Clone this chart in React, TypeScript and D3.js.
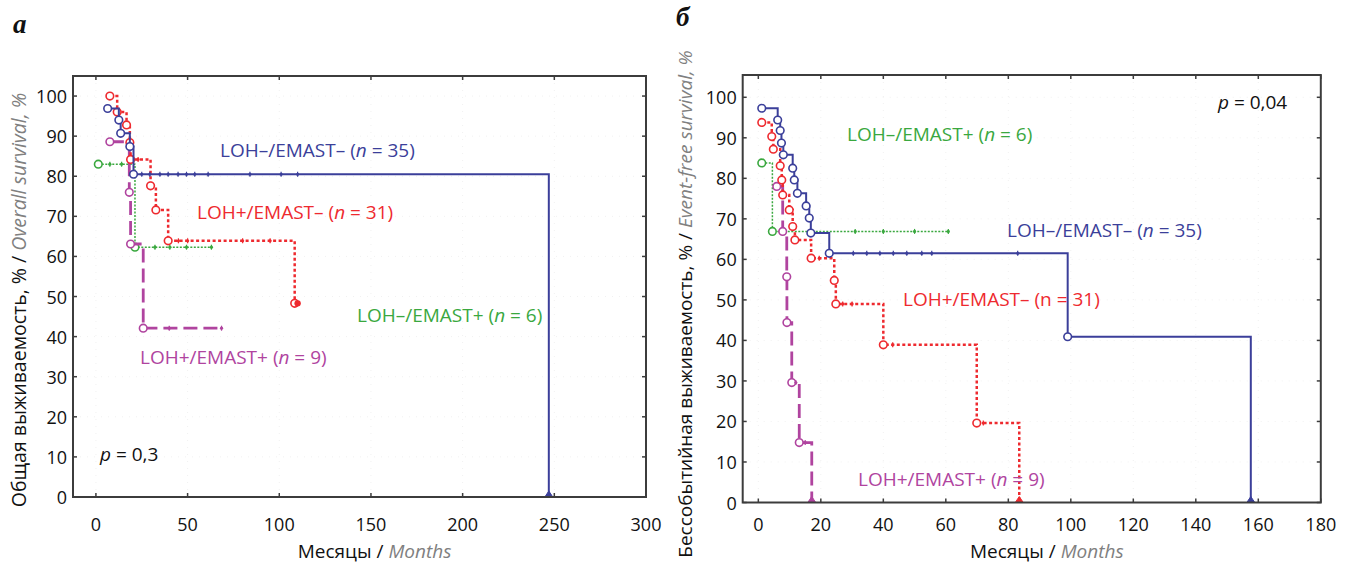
import React from 'react';
import * as d3 from 'd3';

const W = 1355, H = 566;
const FONT = '"Open Sans", "Noto Sans", sans-serif';

// ---------- shared ticks ----------
const yTicks = [0, 10, 20, 30, 40, 50, 60, 70, 80, 90, 100];
const aXTicks = [0, 50, 100, 150, 200, 250, 300];
const bXTicks = [0, 20, 40, 60, 80, 100, 120, 140, 160, 180];

// ---------- panel a: overall survival ----------
const aBlueT = [6.4, 12.5, 13.5, 18.5, 20.5, 247];
const aBlueS = [96.9, 94.0, 90.7, 87.4, 80.5, 0];
const aBlueEnd = 247;
const aBlueCens = [25, 29.4, 34.9, 39.4, 44.8, 49.4, 53.9, 61.2, 84, 101, 110];

const aRedT = [7.6, 11.6, 16.7, 18.5, 18.9, 29.8, 32.7, 39.4, 108.4];
const aRedS = [100, 96.0, 92.8, 88.4, 84.2, 77.6, 71.6, 63.9, 48.3];
const aRedEnd = 110;
const aRedCens = [23, 45, 50, 80, 95, 110];

const aGreenT = [1.3, 21.3];
const aGreenS = [83.0, 62.3];
const aGreenEnd = 63;
const aGreenCens = [7.6, 14, 32.2, 40.3, 49.4, 63];

const aMagT = [7.6, 18.2, 18.9, 25.8];
const aMagS = [88.6, 76.0, 63.1, 42.1];
const aMagEnd = 68.5;
const aMagCens = [40, 68.5];

// ---------- panel b: event-free survival ----------
const bBlueT = [1.1, 6.2, 7.0, 7.4, 8.0, 11.0, 11.5, 12.5, 15.3, 16.3, 16.8, 22.7, 99, 157.6];
const bBlueS = [97.3, 94.4, 91.8, 88.7, 85.8, 82.5, 79.6, 76.3, 73.2, 70.2, 66.5, 61.5, 40.9, 0];
const bBlueEnd = 157.6;
const bBlueCens = [30.4, 34.7, 38.9, 43.2, 47.5, 52.3, 55.5, 83];

const bRedT = [1.1, 4.3, 4.8, 7.0, 7.5, 7.8, 9.9, 11.0, 11.7, 16.9, 24.3, 24.8, 40, 69.9, 83.5];
const bRedS = [93.8, 90.3, 87.2, 83.1, 79.6, 75.9, 72.2, 68.1, 64.8, 60.3, 54.8, 49.0, 38.9, 19.6, 0];
const bRedEnd = 83.5;
const bRedCens = [19.5, 27, 30, 43, 72];

const bGreenT = [1.1, 4.5];
const bGreenS = [83.8, 66.9];
const bGreenEnd = 60.8;
const bGreenCens = [31, 40, 50, 60.8];

const bMagT = [5.9, 7.8, 9.1, 9.15, 10.7, 13.1, 17.1];
const bMagS = [78.0, 66.9, 55.7, 44.4, 29.6, 14.8, 0];
const bMagEnd = 17.1;
const bMagCens = [12, 15];

const C = {
  blue: '#3b3f9a',
  red: '#ee2a2f',
  green: '#3aa83f',
  mag: '#b0449f',
};

type Series = { t: number[]; s: number[]; end: number; cens: number[]; color: string; dash: string; width: number; endDot?: boolean };

const aSeries: Series[] = [
  { t: aGreenT, s: aGreenS, end: aGreenEnd, cens: aGreenCens, color: C.green, dash: '2,1.5', width: 1.5 },
  { t: aMagT, s: aMagS, end: aMagEnd, cens: aMagCens, color: C.mag, dash: '14,6', width: 2.8 },
  { t: aRedT, s: aRedS, end: aRedEnd, cens: aRedCens, color: C.red, dash: '3,2.5', width: 2.5, endDot: true },
  { t: aBlueT, s: aBlueS, end: aBlueEnd, cens: aBlueCens, color: C.blue, dash: '', width: 2 },
];
const bSeries: Series[] = [
  { t: bGreenT, s: bGreenS, end: bGreenEnd, cens: bGreenCens, color: C.green, dash: '2,1.5', width: 1.5 },
  { t: bMagT, s: bMagS, end: bMagEnd, cens: bMagCens, color: C.mag, dash: '14,6', width: 2.8 },
  { t: bRedT, s: bRedS, end: bRedEnd, cens: bRedCens, color: C.red, dash: '3,2.5', width: 2.5 },
  { t: bBlueT, s: bBlueS, end: bBlueEnd, cens: bBlueCens, color: C.blue, dash: '', width: 2 },
];

function valueAt(t: number[], s: number[], x: number) {
  let v = s[0];
  for (let i = 0; i < t.length; i++) if (t[i] <= x) v = s[i];
  return v;
}

type Label = { x: number; y: number; color: string; parts: [string, boolean][] };

function Panel(props: {
  xDomain: [number, number]; xRange: [number, number]; yDomain: [number, number]; yRange: [number, number];
  xTicks: number[]; series: Series[]; labels: Label[]; yTitle: [string, string]; yTitleX: number; yTitleY: number;
  yTitleSize: number; letter: string; letterX: number; letterY: number;
}) {
  const x = d3.scaleLinear().domain(props.xDomain).range(props.xRange);
  const y = d3.scaleLinear().domain(props.yDomain).range(props.yRange);
  const [x0, x1] = props.xRange;
  const [yb, yt] = props.yRange;
  const line = d3.line<[number, number]>().x(d => x(d[0])).y(d => y(d[1])).curve(d3.curveStepAfter);
  return (
    <g>
      {/* faint grid */}
      {props.xTicks.map(t => (
        <line key={'gx' + t} x1={x(t)} x2={x(t)} y1={yt} y2={yb} stroke="#f1f1f1" strokeWidth={1} strokeDasharray="1,6" />
      ))}
      {yTicks.map(t => (
        <line key={'gy' + t} x1={x0} x2={x1} y1={y(t)} y2={y(t)} stroke="#f1f1f1" strokeWidth={1} strokeDasharray="1,6" />
      ))}
      {/* series */}
      {props.series.map((se, i) => {
        const pts: [number, number][] = se.t.map((ti, k) => [ti, se.s[k]] as [number, number]);
        pts.push([se.end, se.s[se.s.length - 1]]);
        return (
          <g key={'s' + i}>
            <path d={line(pts) || ''} fill="none" stroke={se.color} strokeWidth={se.width} strokeDasharray={se.dash} />
            {se.t.map((ti, k) => se.s[k] > 0 ? (
              <circle key={'c' + k} cx={x(ti)} cy={y(se.s[k])} r={3.8} fill="white" stroke={se.color} strokeWidth={1.6} />
            ) : (
              <path key={'c' + k} d={`M${x(ti) - 4},${y(0)} L${x(ti)},${y(0) - 6} L${x(ti) + 4},${y(0)} Z`} fill={se.color} stroke={se.color} strokeWidth={1} />
            ))}
            {se.cens.map((c, k) => (
              <g key={'x' + k}>
                <line x1={x(c)} x2={x(c)} y1={y(valueAt(se.t, se.s, c)) - 2.5} y2={y(valueAt(se.t, se.s, c)) + 2.5} stroke={se.color} strokeWidth={1.2} />
                <circle cx={x(c)} cy={y(valueAt(se.t, se.s, c))} r={1.6} fill={se.color} />
              </g>
            ))}
            {se.endDot ? <circle cx={x(se.end)} cy={y(se.s[se.s.length - 1])} r={3.2} fill={se.color} /> : null}
          </g>
        );
      })}
      {/* frame */}
      <rect x={x0} y={yt} width={x1 - x0} height={yb - yt} fill="none" stroke="#3c3c3c" strokeWidth={2} />
      {props.xTicks.map(t => (
        <g key={'tx' + t}>
          <line x1={x(t)} x2={x(t)} y1={yb} y2={yb - 4} stroke="#3c3c3c" strokeWidth={1.5} />
          <line x1={x(t)} x2={x(t)} y1={yt} y2={yt + 4} stroke="#3c3c3c" strokeWidth={1.5} />
          <text x={x(t)} y={524} textAnchor="middle" dominantBaseline="central" fontSize={18} fontFamily={FONT} fill="#111">{t}</text>
        </g>
      ))}
      {yTicks.map(t => (
        <g key={'ty' + t}>
          <line x1={x0} x2={x0 + 4} y1={y(t)} y2={y(t)} stroke="#3c3c3c" strokeWidth={1.5} />
          <line x1={x1} x2={x1 - 4} y1={y(t)} y2={y(t)} stroke="#3c3c3c" strokeWidth={1.5} />
          <text x={x0 - 6} y={y(t)} textAnchor="end" dominantBaseline="central" fontSize={18} fontFamily={FONT} fill="#111">{t}</text>
        </g>
      ))}
      {/* labels */}
      {props.labels.map((lb, i) => (
        <text key={'l' + i} x={lb.x} y={lb.y} fontSize={19} fontFamily={FONT} fill={lb.color}>
          {lb.parts.map((p, k) => <tspan key={k} fontStyle={p[1] ? 'italic' : 'normal'}>{p[0]}</tspan>)}
        </text>
      ))}
      {/* x title */}
      <text x={(x0 + x1) / 2 + 15} y={551} textAnchor="middle" dominantBaseline="central" fontSize={19} fontFamily={FONT} fill="#111">
        <tspan>Месяцы / </tspan><tspan fontStyle="italic" fill="#808080">Months</tspan>
      </text>
      {/* y title */}
      <text transform={`translate(${props.yTitleX},${props.yTitleY}) rotate(-90)`} textAnchor="middle" dominantBaseline="central" fontSize={props.yTitleSize} fontFamily={FONT} fill="#111">
        <tspan>{props.yTitle[0]}</tspan><tspan fontStyle="italic" fill="#808080">{props.yTitle[1]}</tspan>
      </text>
      <text x={props.letterX} y={props.letterY} fontSize={27} fontWeight="bold" fontStyle="italic" fontFamily='"Liberation Serif", serif' fill="#111">{props.letter}</text>
    </g>
  );
}

const aLabels: Label[] = [
  { x: 220, y: 157, color: C.blue, parts: [['LOH–/EMAST– (', false], ['n', true], [' = 35)', false]] },
  { x: 197, y: 219, color: C.red, parts: [['LOH+/EMAST– (', false], ['n', true], [' = 31)', false]] },
  { x: 357, y: 322, color: C.green, parts: [['LOH–/EMAST+ (', false], ['n', true], [' = 6)', false]] },
  { x: 140, y: 364, color: C.mag, parts: [['LOH+/EMAST+ (', false], ['n', true], [' = 9)', false]] },
  { x: 100, y: 461, color: '#111', parts: [['p', true], [' = 0,3', false]] },
];
const bLabels: Label[] = [
  { x: 1218, y: 109, color: '#111', parts: [['p', true], [' = 0,04', false]] },
  { x: 847, y: 141, color: C.green, parts: [['LOH–/EMAST+ (', false], ['n', true], [' = 6)', false]] },
  { x: 1007, y: 237, color: C.blue, parts: [['LOH–/EMAST– (', false], ['n', true], [' = 35)', false]] },
  { x: 903, y: 306, color: C.red, parts: [['LOH+/EMAST– (n = 31)', false]] },
  { x: 858, y: 486, color: C.mag, parts: [['LOH+/EMAST+ (', false], ['n', true], [' = 9)', false]] },
];

export default function App() {
  return (
    <svg width={W} height={H} style={{ position: 'absolute', left: 0, top: 0, background: 'white' }}>
      <rect x={0} y={0} width={W} height={H} fill="white" />
      <Panel xDomain={[-12.5, 300]} xRange={[73, 646]} yDomain={[0, 105]} yRange={[497, 76]}
        xTicks={aXTicks} series={aSeries} labels={aLabels}
        yTitle={['Общая выживаемость, % / ', 'Overall survival, %']} yTitleX={18} yTitleY={300} yTitleSize={19.5}
        letter="а" letterX={13} letterY={33} />
      <Panel xDomain={[-5, 180]} xRange={[742.7, 1320.8]} yDomain={[0, 105.5]} yRange={[502.5, 75]}
        xTicks={bXTicks} series={bSeries} labels={bLabels}
        yTitle={['Бессобытийная выживаемость, % / ', 'Event-free survival, %']} yTitleX={685} yTitleY={304} yTitleSize={19}
        letter="б" letterX={676} letterY={26} />
    </svg>
  );
}
